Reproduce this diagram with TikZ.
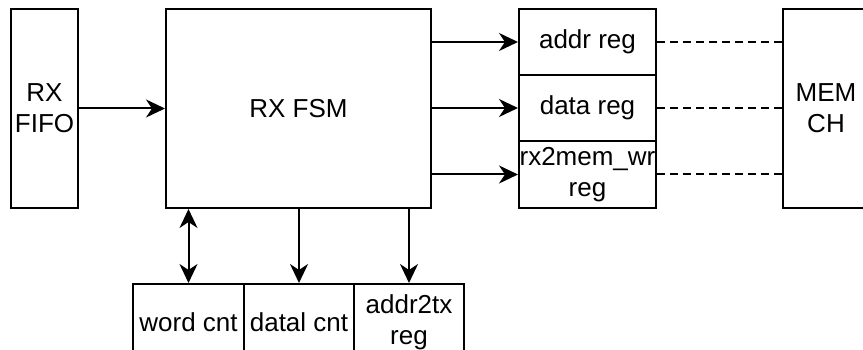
\documentclass[tikz,border=0pt]{standalone}
\usepackage{fontspec}
\setmainfont{Liberation Sans}
\usetikzlibrary{arrows.meta}
\begin{document}
\begin{tikzpicture}[x=1pt,y=-1pt,
  box/.style={draw, line width=2pt, inner sep=0pt, align=center, font=\fontsize{26}{31}\selectfont},
  arr/.style={line width=2pt, -{Stealth[length=19pt,width=18pt,inset=6pt]}},
  darr/.style={line width=2pt, {Stealth[length=19pt,width=18pt,inset=6pt]}-{Stealth[length=19pt,width=18pt,inset=6pt]}},
  dsh/.style={line width=2pt, dash pattern=on 8pt off 5pt}]
\useasboundingbox (0,0) rectangle (863,350);
\clip (0,0) rectangle (863,350);
\node[box, minimum width=67pt, minimum height=199pt] (fifo) at (44.5,108.5) {RX\\FIFO};
\node[box, minimum width=265pt, minimum height=199pt] (fsm) at (298.5,108.5) {RX FSM};
\node[box, minimum width=137pt, minimum height=66pt] (addr) at (587.5,42) {addr reg};
\node[box, minimum width=137pt, minimum height=66pt] (data) at (587.5,108) {data reg};
\node[box, minimum width=137pt, minimum height=67pt] (wr) at (587.5,174.5) {rx2mem\_wr\\reg};
\node[box, minimum width=86pt, minimum height=199pt] (mem) at (826,108.5) {MEM\\CH};
\node[box, minimum width=111pt, minimum height=76pt] (word) at (188.5,322) {word cnt};
\node[box, minimum width=110pt, minimum height=76pt] (datal) at (299,322) {datal cnt};
\node[box, minimum width=110pt, minimum height=76pt] (a2tx) at (409,322) {addr2tx\\reg};
\draw[arr] (fifo.east) -- (fsm.west);
\draw[arr] (fsm.east |- addr.west) -- (addr.west);
\draw[arr] (fsm.east |- data.west) -- (data.west);
\draw[arr] (fsm.east |- wr.west) -- (wr.west);
\draw[dsh] (addr.east) -- (mem.west |- addr.east);
\draw[dsh] (data.east) -- (mem.west |- data.east);
\draw[dsh] (wr.east) -- (mem.west |- wr.east);
\draw[darr] (word.north |- fsm.south) -- (word.north);
\draw[arr] (datal.north |- fsm.south) -- (datal.north);
\draw[arr] (a2tx.north |- fsm.south) -- (a2tx.north);
\end{tikzpicture}
\end{document}
